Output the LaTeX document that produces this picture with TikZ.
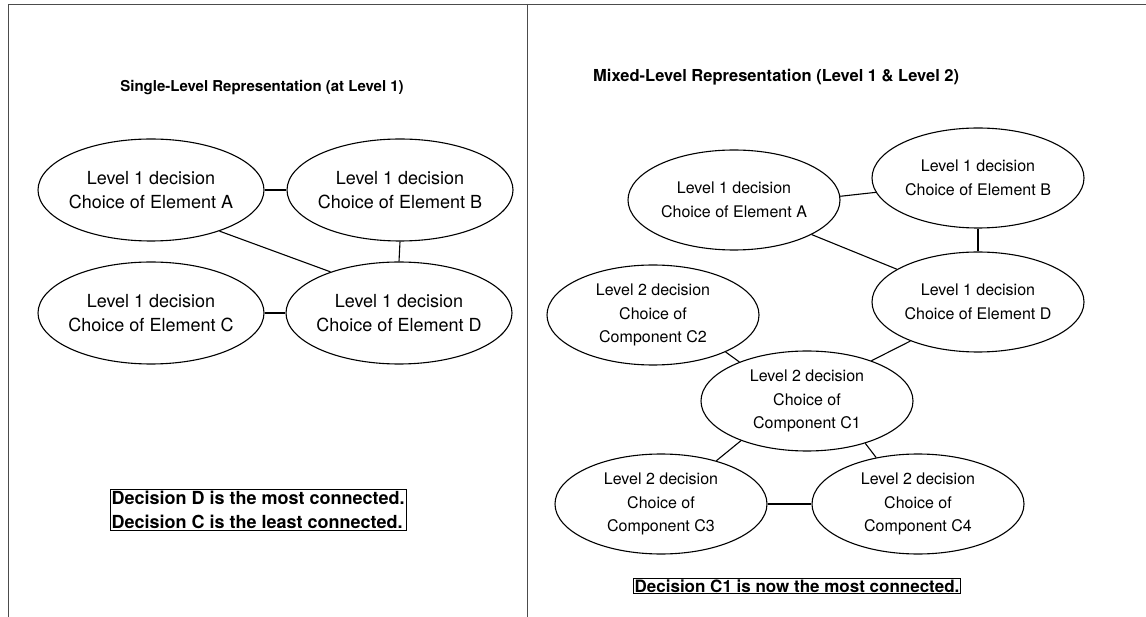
\documentclass[tikz,border=0pt]{standalone}
\usepackage{fontspec}
\setmainfont{TeX Gyre Heros}
\usetikzlibrary{shapes.geometric}
\begin{document}
\begin{tikzpicture}[x=1pt,y=-1pt,
  decision/.style={ellipse, draw, line width=1.1pt, inner sep=-40pt,
    minimum width=226pt, minimum height=102pt, align=center,
    font=\fontsize{18}{23.5}\selectfont},
  subdecision/.style={decision, minimum width=212pt, minimum height=100pt,
    font=\fontsize{16}{23.5}\selectfont},
  link/.style={line width=1.1pt},
  heading/.style={font=\fontsize{15}{18}\selectfont\bfseries, inner sep=0pt},
  remark/.style={draw, line width=0.9pt, inner sep=1.5pt, align=left,
    font=\fontsize{18}{24}\selectfont\bfseries},
  frame/.style={line width=0.9pt, draw=black!70}]

\useasboundingbox (0,0) rectangle (1146,617);

% panel frame
\coordinate (tl) at (8,4);
\coordinate (tr) at (1146,4);
\coordinate (bl) at (8,617);
\coordinate (mt) at (527,4);
\coordinate (mb) at (527,617);
\draw[frame] (bl) -- (tl) -- (tr);
\draw[frame] (mt) -- (mb);

% left panel: single-level graph
\node[heading] (t1) at (262,88) {Single-Level Representation (at Level 1)};
\node[decision] (a1) at (151,190) {Level 1 decision\\Choice of Element A};
\node[decision] (b1) at (400,190) {Level 1 decision\\Choice of Element B};
\node[decision] (c1) at (151,313) {Level 1 decision\\Choice of Element C};
\node[decision] (d1) at (399,313) {Level 1 decision\\Choice of Element D};
\draw[link] (a1.east) -- (b1.west);
\draw[link] (a1.-31) -- (d1.149);
\draw[link] (b1.south) -- (d1.north);
\draw[link] (c1.east) -- (d1.west);
\node[remark] (n1) at (258,510) {Decision D is the most connected.\\Decision C is the least connected.};

% right panel: mixed-level graph
\node[heading, anchor=west, font=\fontsize{16.5}{20}\selectfont\bfseries] (t2) at (593,77) {Mixed-Level Representation (Level 1 \& Level 2)};
\node[subdecision] (a2) at (734,200) {Level 1 decision\\Choice of Element A};
\node[subdecision] (b2) at (978,178) {Level 1 decision\\Choice of Element B};
\node[subdecision] (d2) at (978,302) {Level 1 decision\\Choice of Element D};
\node[subdecision] (k2) at (653,315) {Level 2 decision\\Choice of\\Component C2};
\node[subdecision] (k1) at (807,401) {Level 2 decision\\Choice of\\Component C1};
\node[subdecision] (k3) at (661,504) {Level 2 decision\\Choice of\\Component C3};
\node[subdecision] (k4) at (918,504) {Level 2 decision\\Choice of\\Component C4};
\draw[link] (a2.2) -- (b2.188);
\draw[link] (a2.-24) -- (d2.158);
\draw[link] (b2.south) -- (d2.north);
\draw[link] (k2.-27) -- (k1.150);
\draw[link] (d2.210) -- (k1.32);
\draw[link] (k1.211) -- (k3.38);
\draw[link] (k1.-36) -- (k4.132);
\draw[link] (k3.east) -- (k4.west);
\node[remark, font=\fontsize{17}{22}\selectfont\bfseries] (n2) at (797,586) {Decision C1 is now the most connected.};
\end{tikzpicture}
\end{document}
